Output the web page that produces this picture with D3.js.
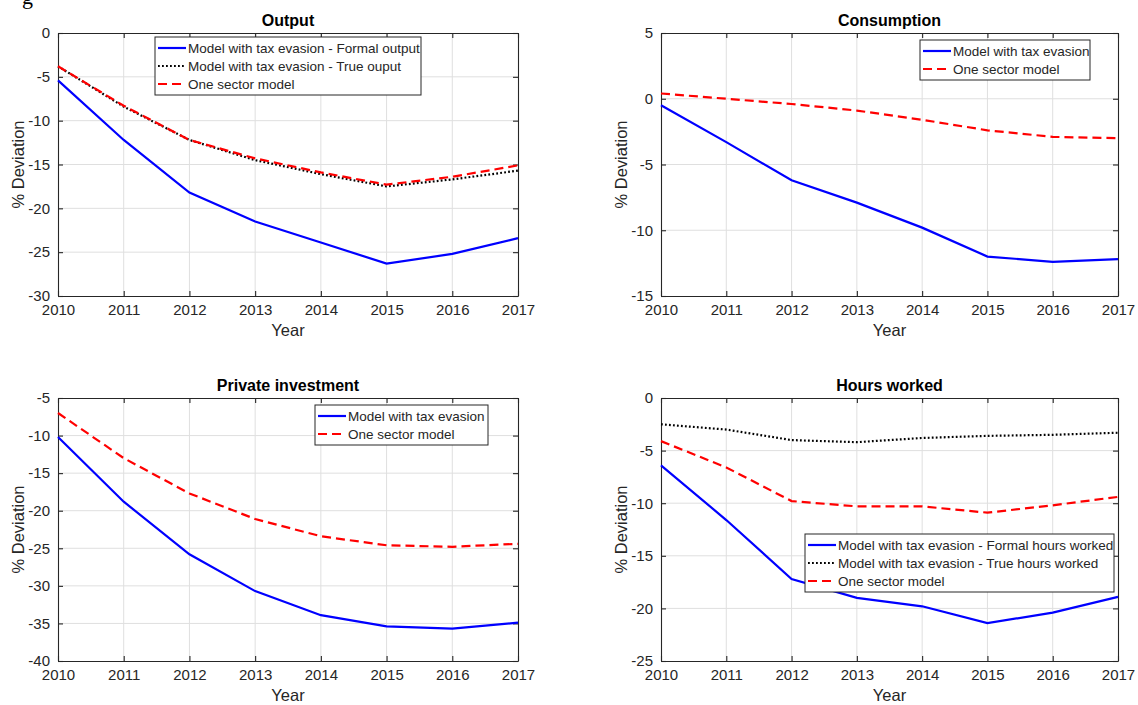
<!DOCTYPE html>
<html>
<head>
<meta charset="utf-8">
<script src="https://cdn.jsdelivr.net/npm/d3@7"></script>
<style>
  body { margin: 0; background: #fff; }
  text { font-family: "Liberation Sans", Arial, Helvetica, sans-serif; }
</style>
</head>
<body>
<svg id="fig" width="1138" height="705"></svg>
<script>
// data
const years = [2010, 2011, 2012, 2013, 2014, 2015, 2016, 2017];

const outputFormal = [-5.4, -12.2, -18.2, -21.5, -23.9, -26.3, -25.2, -23.4];
const outputTrue   = [-3.8, -8.4, -12.2, -14.5, -16.1, -17.5, -16.7, -15.7];
const outputOne    = [-3.8, -8.3, -12.2, -14.3, -15.9, -17.3, -16.4, -15.1];

const consTax = [-0.5, -3.3, -6.2, -7.9, -9.8, -12.0, -12.4, -12.2];
const consOne = [0.4, 0.0, -0.4, -0.9, -1.6, -2.4, -2.9, -3.0];

const invTax = [-10.2, -18.8, -25.8, -30.7, -33.9, -35.4, -35.7, -34.9];
const invOne = [-7.0, -13.0, -17.7, -21.1, -23.4, -24.6, -24.8, -24.4];

const hoursFormal = [-6.4, -11.6, -17.2, -19.0, -19.8, -21.4, -20.4, -18.9];
const hoursTrue   = [-2.5, -3.0, -4.0, -4.2, -3.8, -3.6, -3.5, -3.3];
const hoursOne    = [-4.1, -6.6, -9.8, -10.3, -10.3, -10.9, -10.2, -9.4];

const outputTicks = [0, -5, -10, -15, -20, -25, -30];
const consTicks = [5, 0, -5, -10, -15];
const invTicks = [-5, -10, -15, -20, -25, -30, -35, -40];
const hoursTicks = [0, -5, -10, -15, -20, -25];

const styles = {
    formal: { color: "#0000ff", dash: null, width: 2.2 },
    truev:  { color: "#000000", dash: "1.8,2.2", width: 2.2 },
    one:    { color: "#ff0000", dash: "9,5", width: 2.2 }
};

const panels = [
    {
        title: "Output", box: [58, 33, 518, 296], ticks: outputTicks,
        legend: { x: 155, y: 37, w: 266, rowH: 18 },
        series: [
            { name: "Model with tax evasion - Formal output", values: outputFormal, style: "formal" },
            { name: "Model with tax evasion - True ouput", values: outputTrue, style: "truev" },
            { name: "One sector model", values: outputOne, style: "one" }
        ]
    },
    {
        title: "Consumption", box: [661, 33, 1118, 296], ticks: consTicks,
        legend: { x: 920, y: 40, w: 170, rowH: 18 },
        series: [
            { name: "Model with tax evasion", values: consTax, style: "formal" },
            { name: "One sector model", values: consOne, style: "one" }
        ]
    },
    {
        title: "Private investment", box: [58, 398, 518, 661], ticks: invTicks,
        legend: { x: 315, y: 405, w: 173, rowH: 18 },
        series: [
            { name: "Model with tax evasion", values: invTax, style: "formal" },
            { name: "One sector model", values: invOne, style: "one" }
        ]
    },
    {
        title: "Hours worked", box: [661, 398, 1118, 661], ticks: hoursTicks,
        legend: { x: 805, y: 534, w: 309, rowH: 18 },
        series: [
            { name: "Model with tax evasion - Formal hours worked", values: hoursFormal, style: "formal" },
            { name: "Model with tax evasion - True hours worked", values: hoursTrue, style: "truev" },
            { name: "One sector model", values: hoursOne, style: "one" }
        ]
    }
];

const svg = d3.select("#fig");
const axisColor = "#262626";

// cut-off caption glyph at the very top
svg.append("text")
    .attr("x", 22).attr("y", 4)
    .style("font-family", "'Liberation Serif', 'DejaVu Serif', serif")
    .style("font-size", "22px")
    .style("fill", "#000")
    .text("g");

panels.forEach(p => {
    const [x0, y0, x1, y1] = p.box;
    const x = d3.scaleLinear().domain([2010, 2017]).range([x0, x1]);
    const y = d3.scaleLinear().domain([d3.max(p.ticks), d3.min(p.ticks)]).range([y0, y1]);
    const g = svg.append("g");

    // grid
    g.append("g").selectAll("line.vg").data(years.slice(1, -1)).join("line")
        .attr("x1", d => x(d)).attr("x2", d => x(d))
        .attr("y1", y0).attr("y2", y1)
        .style("stroke", "#dfdfdf").style("stroke-width", 1);
    g.append("g").selectAll("line.hg").data(p.ticks.slice(1, -1)).join("line")
        .attr("x1", x0).attr("x2", x1)
        .attr("y1", d => y(d)).attr("y2", d => y(d))
        .style("stroke", "#dfdfdf").style("stroke-width", 1);

    // axes (ticks inward, box on)
    const bottom = d3.axisBottom(x).tickValues(years).tickFormat(d3.format("d"))
        .tickSizeInner(-5).tickSizeOuter(0).tickPadding(8);
    const top = d3.axisTop(x).tickValues(years).tickFormat("").tickSizeInner(-5).tickSizeOuter(0);
    const left = d3.axisLeft(y).tickValues(p.ticks).tickFormat(d3.format("d"))
        .tickSizeInner(-5).tickSizeOuter(0).tickPadding(8);
    const right = d3.axisRight(y).tickValues(p.ticks).tickFormat("").tickSizeInner(-5).tickSizeOuter(0);

    const axes = [
        g.append("g").attr("transform", `translate(0,${y1})`).call(bottom),
        g.append("g").attr("transform", `translate(0,${y0})`).call(top),
        g.append("g").attr("transform", `translate(${x0},0)`).call(left),
        g.append("g").attr("transform", `translate(${x1},0)`).call(right)
    ];
    axes.forEach(a => {
        a.selectAll("path, line").style("stroke", axisColor).style("stroke-width", 1.1);
        a.selectAll("text").style("fill", axisColor).style("font-size", "15px")
            .style("font-family", "'Liberation Sans', Arial, sans-serif");
    });
    axes[0].selectAll("text").attr("dy", "0.71em");
    axes[2].selectAll("text").text(d => d < 0 ? "-" + Math.abs(d) : d);

    // lines
    const line = d3.line().x((d, i) => x(years[i])).y(d => y(d));
    p.series.forEach(s => {
        const st = styles[s.style];
        g.append("path").datum(s.values)
            .attr("d", line)
            .style("fill", "none")
            .style("stroke", st.color)
            .style("stroke-width", st.width)
            .style("stroke-dasharray", st.dash);
    });

    // title
    g.append("text")
        .attr("x", (x0 + x1) / 2).attr("y", y0 - 7)
        .attr("text-anchor", "middle")
        .style("font-weight", "bold").style("font-size", "16px").style("fill", "#000")
        .text(p.title);

    // axis labels
    g.append("text")
        .attr("x", (x0 + x1) / 2).attr("y", y1 + 40)
        .attr("text-anchor", "middle")
        .style("font-size", "16.5px").style("fill", axisColor)
        .text("Year");
    g.append("text")
        .attr("transform", `translate(${x0 - 34},${(y0 + y1) / 2}) rotate(-90)`)
        .attr("text-anchor", "middle")
        .style("font-size", "16.5px").style("fill", axisColor)
        .text("% Deviation");

    // legend
    const L = p.legend;
    const lg = g.append("g").attr("transform", `translate(${L.x},${L.y})`);
    const h = p.series.length * L.rowH + 4;
    lg.append("rect")
        .attr("width", L.w).attr("height", h)
        .style("fill", "#fff").style("stroke", axisColor).style("stroke-width", 1);
    p.series.forEach((s, i) => {
        const st = styles[s.style];
        const cy = 2 + L.rowH * i + L.rowH / 2;
        lg.append("line")
            .attr("x1", 3).attr("x2", 31).attr("y1", cy).attr("y2", cy)
            .style("stroke", st.color).style("stroke-width", st.width)
            .style("stroke-dasharray", st.dash);
        lg.append("text")
            .attr("x", 33).attr("y", cy).attr("dy", "0.35em")
            .style("font-size", "13.5px").style("fill", axisColor)
            .text(s.name);
    });
});
</script>
</body>
</html>
